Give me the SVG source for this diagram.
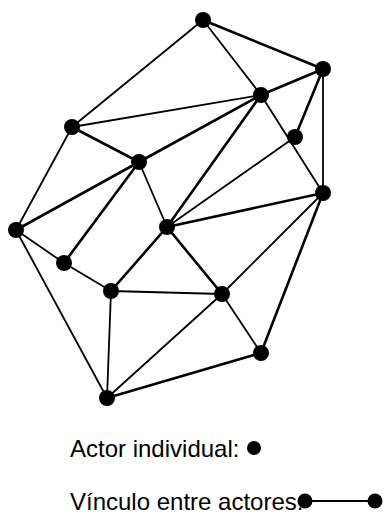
<svg xmlns="http://www.w3.org/2000/svg" width="383" height="516" viewBox="0 0 383 516">
<style>
.e{stroke:#000;stroke-width:1.8;fill:none;stroke-linecap:round}
.t{stroke-width:2.6}
.n{fill:#000}
text{font-family:"Liberation Sans",Arial,sans-serif;font-size:24px;fill:#000}
</style>
<rect width="383" height="516" fill="#fff"/>
<g id="connectors">
<line class="e" x1="203" y1="20" x2="72" y2="127"/>
<line class="e" x1="203" y1="20" x2="261" y2="95"/>
<line class="e t" x1="203" y1="20" x2="323" y2="69"/>
<line class="e t" x1="323" y1="69" x2="261" y2="95"/>
<line class="e t" x1="323" y1="69" x2="295" y2="137"/>
<line class="e" x1="323" y1="69" x2="323" y2="193"/>
<line class="e" x1="261" y1="95" x2="72" y2="127"/>
<line class="e t" x1="261" y1="95" x2="139" y2="162"/>
<line class="e t" x1="261" y1="95" x2="167" y2="227"/>
<line class="e" x1="261" y1="95" x2="323" y2="193"/>
<line class="e" x1="295" y1="137" x2="167" y2="227"/>
<line class="e t" x1="72" y1="127" x2="139" y2="162"/>
<line class="e" x1="72" y1="127" x2="16" y2="230"/>
<line class="e t" x1="139" y1="162" x2="16" y2="230"/>
<line class="e t" x1="139" y1="162" x2="64" y2="263"/>
<line class="e" x1="139" y1="162" x2="167" y2="227"/>
<line class="e t" x1="167" y1="227" x2="323" y2="193"/>
<line class="e t" x1="167" y1="227" x2="111" y2="291"/>
<line class="e t" x1="167" y1="227" x2="222" y2="294"/>
<line class="e" x1="323" y1="193" x2="222" y2="294"/>
<line class="e t" x1="323" y1="193" x2="261" y2="353"/>
<line class="e" x1="16" y1="230" x2="64" y2="263"/>
<line class="e" x1="16" y1="230" x2="107" y2="398"/>
<line class="e" x1="64" y1="263" x2="111" y2="291"/>
<line class="e" x1="111" y1="291" x2="222" y2="294"/>
<line class="e" x1="111" y1="291" x2="107" y2="398"/>
<line class="e" x1="222" y1="294" x2="107" y2="398"/>
<line class="e" x1="222" y1="294" x2="261" y2="353"/>
<line class="e t" x1="261" y1="353" x2="107" y2="398"/>
</g>
<g id="nA"><circle class="n" cx="203" cy="20" r="8"/></g>
<g id="nB"><circle class="n" cx="323" cy="69" r="8"/></g>
<g id="nC"><circle class="n" cx="261" cy="95" r="8"/></g>
<g id="nD"><circle class="n" cx="72" cy="127" r="8"/></g>
<g id="nE"><circle class="n" cx="295" cy="137" r="8"/></g>
<g id="nF"><circle class="n" cx="139" cy="162" r="8"/></g>
<g id="nG"><circle class="n" cx="323" cy="193" r="8"/></g>
<g id="nH"><circle class="n" cx="16" cy="230" r="8"/></g>
<g id="nI"><circle class="n" cx="167" cy="227" r="8"/></g>
<g id="nJ"><circle class="n" cx="64" cy="263" r="8"/></g>
<g id="nK"><circle class="n" cx="111" cy="291" r="8"/></g>
<g id="nL"><circle class="n" cx="222" cy="294" r="8"/></g>
<g id="nM"><circle class="n" cx="261" cy="353" r="8"/></g>
<g id="nN"><circle class="n" cx="107" cy="398" r="8"/></g>
<g id="legend">
<text x="70" y="457">Actor individual:</text>
<circle class="n" cx="254" cy="448" r="7"/>
<text x="70" y="510">Vínculo entre actores:</text>
<line class="e" x1="305" y1="501" x2="375" y2="501" stroke-width="2"/>
<circle class="n" cx="305" cy="501" r="7.5"/>
<circle class="n" cx="375" cy="501" r="7.5"/>
</g>
</svg>
